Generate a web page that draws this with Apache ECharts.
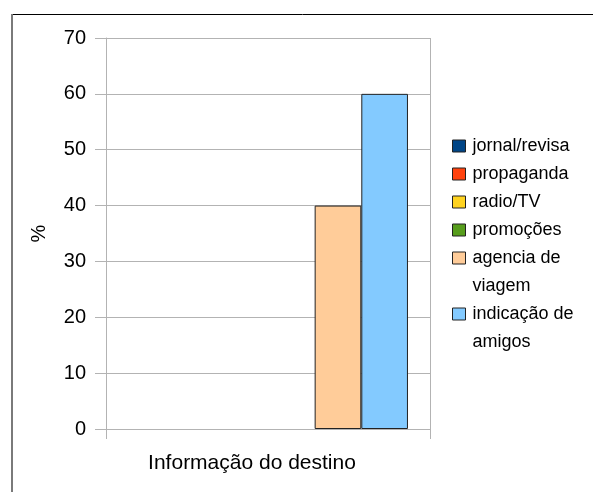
<!DOCTYPE html>
<html>
<head>
<meta charset="utf-8">
<script src="https://cdn.jsdelivr.net/npm/echarts@6/dist/echarts.min.js"></script>
<style>
  html, body { margin: 0; padding: 0; background: #ffffff; }
  #chart { width: 593px; height: 492px; }
</style>
</head>
<body>
<div id="chart"></div>
<script>
// Source of destination information, share of respondents (%)
const categories = ['Informação do destino'];
const seriesNames = ['jornal/revisa', 'propaganda', 'radio/TV', 'promoções', 'agencia de viagem', 'indicação de amigos'];
const seriesValues = [0, 0, 0, 0, 40, 60];
const seriesColors = ['#004586', '#ff420e', '#ffd320', '#579d1c', '#ffcc99', '#83caff'];
const yTicks = [0, 10, 20, 30, 40, 50, 60, 70];

const FONT = '"Liberation Sans", Arial, sans-serif';
const GRID_GRAY = '#b3b3b3';

// Legend labels longer than one line are broken at the last space
function legendLines(name) {
  if (name.length <= 14) return [name];
  const cut = name.lastIndexOf(' ');
  return [name.slice(0, cut), name.slice(cut + 1)];
}

const chart = echarts.init(document.getElementById('chart'), null, { renderer: 'canvas' });

const series = seriesNames.map((name, i) => ({
  name: name,
  type: 'bar',
  data: [seriesValues[i]],
  barGap: '0%',
  barCategoryGap: '13.6%',
  itemStyle: {
    color: seriesColors[i],
    borderColor: '#222222',
    borderWidth: seriesValues[i] > 0 ? 1 : 0
  },
  emphasis: { disabled: true },
  animation: false
}));

const legendData = seriesNames.map(name => {
  const lines = legendLines(name);
  return {
    name: name,
    textStyle: { padding: [(lines.length - 1) * 28, 0, 0, 2] }
  };
});

chart.setOption({
  animation: false,
  textStyle: { fontFamily: FONT },
  grid: { left: 106, top: 38, width: 324, height: 391, containLabel: false },
  legend: {
    orient: 'vertical',
    left: 452,
    top: 132,
    padding: 0,
    itemGap: 0,
    itemWidth: 13,
    itemHeight: 12,
    icon: 'rect',
    selectedMode: false,
    data: legendData,
    itemStyle: { borderColor: '#222222', borderWidth: 1 },
    formatter: name => legendLines(name).map(l => '{t|' + l + '}').join('\n'),
    textStyle: {
      fontFamily: FONT,
      fontSize: 18,
      color: '#000000',
      rich: {
        t: { fontFamily: FONT, fontSize: 18, color: '#000000', height: 28, lineHeight: 28, backgroundColor: 'transparent' }
      }
    }
  },
  xAxis: {
    type: 'category',
    data: categories,
    boundaryGap: true,
    axisLine: { show: true, lineStyle: { color: GRID_GRAY, width: 1 } },
    axisTick: { show: true, length: 10, lineStyle: { color: GRID_GRAY } },
    splitLine: { show: true, lineStyle: { color: GRID_GRAY, width: 1 } },
    axisLabel: {
      fontFamily: FONT,
      fontSize: 21,
      color: '#000000',
      margin: 24,
      padding: [0, 32, 0, 0]
    }
  },
  yAxis: {
    type: 'value',
    min: yTicks[0],
    max: yTicks[yTicks.length - 1],
    interval: 10,
    name: '%',
    nameLocation: 'middle',
    nameGap: 57,
    nameRotate: 90,
    nameTextStyle: { fontFamily: FONT, fontSize: 20, color: '#000000' },
    axisLine: { show: true, lineStyle: { color: GRID_GRAY, width: 1 } },
    axisTick: { show: true, length: 11, lineStyle: { color: GRID_GRAY } },
    splitLine: { show: true, lineStyle: { color: GRID_GRAY, width: 1 } },
    axisLabel: {
      fontFamily: FONT,
      fontSize: 20,
      color: '#000000',
      margin: 20,
      formatter: v => String(v)
    }
  },
  graphic: [
    {
      type: 'line',
      shape: { x1: 12, y1: 14.5, x2: 593, y2: 14.5 },
      style: { stroke: '#000000', lineWidth: 1 },
      silent: true
    },
    {
      type: 'line',
      shape: { x1: 12, y1: 14, x2: 12, y2: 492 },
      style: { stroke: '#7a7a7a', lineWidth: 2 },
      silent: true
    }
  ],
  series: series
});
</script>
</body>
</html>
